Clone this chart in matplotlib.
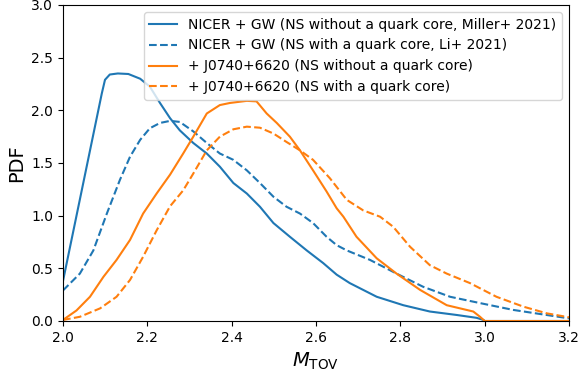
import matplotlib
matplotlib.use("Agg")
import matplotlib.pyplot as plt

x_bs = [2.0, 2.046, 2.092, 2.0996, 2.111, 2.13, 2.155, 2.183, 2.206, 2.23, 2.254, 2.277, 2.309, 2.341, 2.372, 2.404, 2.436, 2.467, 2.499, 2.538, 2.578, 2.617, 2.649, 2.68, 2.744, 2.807, 2.87, 2.934, 2.981, 2.997, 3.0, 3.2]
y_bs = [0.38, 1.27, 2.16, 2.29, 2.34, 2.35, 2.345, 2.30, 2.225, 2.07, 1.925, 1.81, 1.69, 1.59, 1.465, 1.31, 1.21, 1.085, 0.93, 0.80, 0.67, 0.55, 0.44, 0.36, 0.23, 0.15, 0.09, 0.057, 0.03, 0.01, 0.0, 0.0]

x_bd = [2.0, 2.04, 2.072, 2.104, 2.135, 2.159, 2.183, 2.206, 2.23, 2.254, 2.277, 2.309, 2.341, 2.372, 2.404, 2.436, 2.467, 2.499, 2.53, 2.562, 2.593, 2.625, 2.649, 2.673, 2.728, 2.791, 2.854, 2.918, 2.989, 3.068, 3.147, 3.2]
y_bd = [0.29, 0.45, 0.67, 1.02, 1.34, 1.56, 1.72, 1.83, 1.88, 1.90, 1.89, 1.80, 1.69, 1.59, 1.53, 1.43, 1.31, 1.18, 1.085, 1.02, 0.93, 0.80, 0.72, 0.67, 0.58, 0.45, 0.325, 0.23, 0.17, 0.105, 0.057, 0.025]

x_os = [2.0, 2.032, 2.064, 2.096, 2.127, 2.159, 2.19, 2.222, 2.254, 2.285, 2.309, 2.341, 2.372, 2.396, 2.436, 2.459, 2.483, 2.507, 2.538, 2.562, 2.593, 2.625, 2.649, 2.665, 2.696, 2.744, 2.791, 2.847, 2.91, 2.973, 2.989, 3.0, 3.2]
y_os = [0.01, 0.10, 0.23, 0.42, 0.58, 0.77, 1.02, 1.21, 1.39, 1.59, 1.75, 1.97, 2.05, 2.07, 2.09, 2.085, 1.97, 1.88, 1.75, 1.62, 1.43, 1.23, 1.07, 0.99, 0.80, 0.595, 0.45, 0.295, 0.15, 0.09, 0.04, 0.0, 0.0]

x_od = [2.0, 2.04, 2.088, 2.127, 2.159, 2.19, 2.222, 2.254, 2.285, 2.309, 2.341, 2.372, 2.404, 2.436, 2.467, 2.499, 2.53, 2.562, 2.593, 2.633, 2.673, 2.712, 2.752, 2.783, 2.823, 2.87, 2.91, 2.965, 3.028, 3.092, 3.147, 3.2]
y_od = [0.01, 0.04, 0.12, 0.23, 0.39, 0.61, 0.86, 1.09, 1.24, 1.40, 1.62, 1.75, 1.82, 1.845, 1.835, 1.78, 1.70, 1.62, 1.53, 1.355, 1.15, 1.05, 0.99, 0.895, 0.705, 0.53, 0.45, 0.36, 0.23, 0.136, 0.073, 0.035]

labels = [
    "NICER + GW (NS without a quark core, Miller+ 2021)",
    "NICER + GW (NS with a quark core, Li+ 2021)",
    "+ J0740+6620 (NS without a quark core)",
    "+ J0740+6620 (NS with a quark core)",
]

fig = plt.figure(figsize=(5.79, 3.78), dpi=100)
ax = fig.add_axes([63/579, 1-321/378, (569-63)/579, (321-5)/378])
ax.plot(x_bs, y_bs, color="C0", ls="-", label=labels[0])
ax.plot(x_bd, y_bd, color="C0", ls="--", label=labels[1])
ax.plot(x_os, y_os, color="C1", ls="-", label=labels[2])
ax.plot(x_od, y_od, color="C1", ls="--", label=labels[3])
ax.set_xlim(2.0, 3.2)
ax.set_ylim(0, 3.0)
ax.set_xlabel(r"$M_{\rm TOV}$", fontsize=14)
ax.set_ylabel("PDF", fontsize=14)
ax.legend(loc="upper right", fontsize=10)
fig.savefig("out.png", dpi=100)
